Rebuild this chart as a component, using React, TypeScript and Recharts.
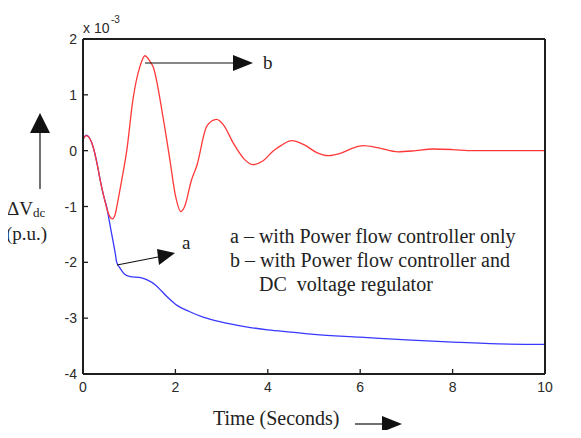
import React from "react";
import { LineChart, Line, XAxis, YAxis } from "recharts";

// time (s) and deviation (x 1e-3 p.u.)
const timeA = [0, 0.07, 0.19, 0.33, 0.37, 0.45, 0.51, 0.6, 0.7, 0.73, 0.8, 0.91, 1.0, 1.27, 1.4, 1.56, 1.8, 2.0, 2.3, 2.6, 3.0, 3.5, 4.0, 4.5, 5.0, 6.0, 7.0, 8.0, 9.0, 10];
const curveA = [0.2, 0.28, 0.14, -0.34, -0.52, -0.82, -1.0, -1.4, -1.85, -2.0, -2.1, -2.22, -2.25, -2.28, -2.32, -2.4, -2.6, -2.75, -2.88, -2.98, -3.07, -3.15, -3.21, -3.25, -3.29, -3.34, -3.39, -3.43, -3.46, -3.47];

const timeB = [0, 0.07, 0.19, 0.33, 0.37, 0.45, 0.52, 0.58, 0.64, 0.7, 0.76, 0.84, 0.95, 1.08, 1.23, 1.34, 1.45, 1.52, 1.73, 1.88, 2.0, 2.12, 2.2, 2.35, 2.46, 2.68, 2.89, 3.05, 3.25, 3.5, 3.68, 3.9, 4.11, 4.3, 4.52, 4.8, 5.05, 5.31, 5.6, 5.85, 6.06, 6.4, 6.82, 7.2, 7.58, 8.0, 8.44, 9.0, 10];
const curveB = [0.2, 0.27, 0.14, -0.34, -0.52, -0.82, -1.05, -1.18, -1.22, -1.13, -0.88, -0.52, 0.02, 0.91, 1.5, 1.7, 1.6, 1.5, 0.61, -0.16, -0.8, -1.09, -1.0, -0.52, -0.28, 0.44, 0.56, 0.45, 0.14, -0.16, -0.25, -0.18, -0.01, 0.1, 0.18, 0.1, -0.03, -0.09, -0.04, 0.05, 0.09, 0.05, -0.02, 0.0, 0.03, 0.02, 0.0, 0.0, 0.0];

const xTicks = [0, 2, 4, 6, 8, 10];
const yTicks = [-4, -3, -2, -1, 0, 1, 2];

const sans = "'Liberation Sans', Arial, sans-serif";
const serif = "'Liberation Serif', 'Times New Roman', serif";
const ink = "#1e1e1e";

const seriesA = timeA.map((t, i) => ({ t, v: curveA[i] }));
const seriesB = timeB.map((t, i) => ({ t, v: curveB[i] }));

const BottomTick = (props: any) => {
  const { x, y, payload } = props;
  return (
    <g>
      <line x1={x} x2={x} y1={y} y2={y - 5} stroke={ink} strokeWidth={1.3} />
      <text x={x} y={y + 18} textAnchor="middle" fontFamily={sans} fontSize={14} fill="#2a2a2a">
        {payload.value}
      </text>
    </g>
  );
};

const TopTick = (props: any) => {
  const { x, y } = props;
  return <line x1={x} x2={x} y1={y} y2={y + 5} stroke={ink} strokeWidth={1.3} />;
};

const LeftTick = (props: any) => {
  const { x, y, payload } = props;
  return (
    <g>
      <line x1={x} x2={x + 5} y1={y} y2={y} stroke={ink} strokeWidth={1.3} />
      <text x={x - 6} y={y + 5} textAnchor="end" fontFamily={sans} fontSize={14} fill="#2a2a2a">
        {payload.value}
      </text>
    </g>
  );
};

const RightTick = (props: any) => {
  const { x, y } = props;
  return <line x1={x} x2={x - 5} y1={y} y2={y} stroke={ink} strokeWidth={1.3} />;
};

export default function App() {
  return (
    <div style={{ position: "relative", width: 581, height: 438, margin: -8, background: "#fff" }}>
      <svg width={581} height={12} style={{ position: "absolute", left: 0, top: 0 }}>
        <defs>
          <linearGradient id="fade" x1="0" x2="1" y1="0" y2="0">
            <stop offset="0" stopColor="#f3eee4" stopOpacity={0} />
            <stop offset="0.2" stopColor="#f3eee4" stopOpacity={0.8} />
            <stop offset="0.5" stopColor="#faf8f2" stopOpacity={0.6} />
            <stop offset="0.75" stopColor="#ece8e2" stopOpacity={0.9} />
            <stop offset="1" stopColor="#f3eee4" stopOpacity={0} />
          </linearGradient>
        </defs>
        <rect x={130} y={0} width={250} height={6} fill="url(#fade)" />
      </svg>
      <LineChart width={581} height={438} margin={{ top: 38, right: 35, bottom: 63, left: 82 }}>
        <XAxis
          xAxisId="bottom"
          type="number"
          dataKey="t"
          domain={[0, 10]}
          ticks={xTicks}
          height={1}
          tickSize={0}
          tickMargin={0}
          tick={<BottomTick />}
          axisLine={{ stroke: ink, strokeWidth: 2 }}
          tickLine={false}
          allowDataOverflow
        />
        <XAxis
          xAxisId="top"
          orientation="top"
          type="number"
          dataKey="t"
          domain={[0, 10]}
          ticks={xTicks}
          height={1}
          tickSize={0}
          tickMargin={0}
          tick={<TopTick />}
          axisLine={{ stroke: ink, strokeWidth: 2 }}
          tickLine={false}
        />
        <YAxis
          yAxisId="left"
          type="number"
          domain={[-4, 2]}
          ticks={yTicks}
          width={1}
          tickSize={0}
          tickMargin={0}
          tick={<LeftTick />}
          axisLine={{ stroke: ink, strokeWidth: 2 }}
          tickLine={false}
          allowDataOverflow
        />
        <YAxis
          yAxisId="right"
          orientation="right"
          type="number"
          domain={[-4, 2]}
          ticks={yTicks}
          width={1}
          tickSize={0}
          tickMargin={0}
          tick={<RightTick />}
          axisLine={{ stroke: ink, strokeWidth: 2 }}
          tickLine={false}
        />
        <Line
          xAxisId="bottom"
          yAxisId="left"
          data={seriesA}
          dataKey="v"
          type="monotone"
          stroke="#3838ff"
          strokeWidth={1.3}
          dot={false}
          isAnimationActive={false}
        />
        <Line
          xAxisId="bottom"
          yAxisId="left"
          data={seriesB}
          dataKey="v"
          type="monotone"
          stroke="#ff3838"
          strokeWidth={1.3}
          dot={false}
          isAnimationActive={false}
        />
      </LineChart>
      <svg
        width={581}
        height={438}
        style={{ position: "absolute", left: 0, top: 0, pointerEvents: "none" }}
      >
        {/* exponent */}
        <text x={83} y={33} fontFamily={sans} fontSize={14} fill="#2a2a2a">x 10</text>
        <text x={111} y={23} fontFamily={sans} fontSize={10} fill="#2a2a2a">-3</text>

        {/* arrow b */}
        <line x1={145} y1={63} x2={236} y2={63} stroke="#111" strokeWidth={1.2} />
        <polygon points="233,55 253,63 233,71" fill="#111" />
        <text x={263} y={69} fontFamily={serif} fontSize={19} fill="#222">b</text>

        {/* arrow a */}
        <line x1={117} y1={265} x2={158} y2={257} stroke="#111" strokeWidth={1.2} />
        <polygon points="157,249 175,253 159,265" fill="#111" />
        <text x={182} y={249} fontFamily={serif} fontSize={19} fill="#222">a</text>

        {/* legend text */}
        <text x={230} y={243} fontFamily={serif} fontSize={20} fill="#222">a – with Power flow controller only</text>
        <text x={230} y={267} fontFamily={serif} fontSize={20} fill="#222">b – with Power flow controller and</text>
        <text x={259} y={291} fontFamily={serif} fontSize={20} fill="#222" style={{ whiteSpace: "pre" }}>DC  voltage regulator</text>

        {/* y label */}
        <line x1={40} y1={130} x2={40} y2={189} stroke="#111" strokeWidth={1.2} />
        <polygon points="30,133 40,113 50,133" fill="#111" />
        <text x={7} y={215} fontFamily={serif} fontSize={19} fill="#222">
          ΔV<tspan fontSize={13} dy={2}>dc</tspan>
        </text>
        <text x={6} y={240} fontFamily={serif} fontSize={19} fill="#222">(p.u.)</text>

        {/* x label */}
        <text x={213} y={425} fontFamily={serif} fontSize={20} fill="#222">Time (Seconds)</text>
        <line x1={355} y1={424} x2={385} y2={424} stroke="#111" strokeWidth={1.2} />
        <polygon points="382,416 402,424 382,432" fill="#111" />
      </svg>
    </div>
  );
}
